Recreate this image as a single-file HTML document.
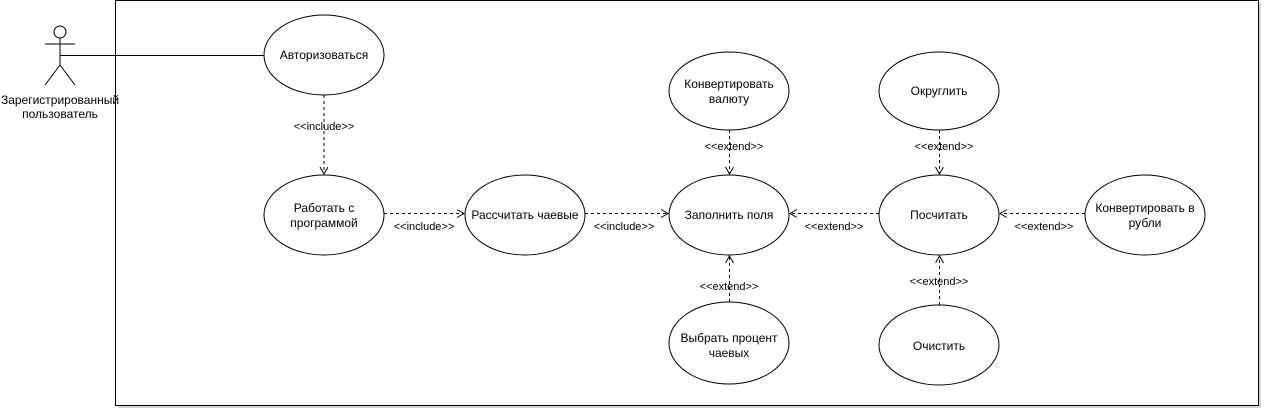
<!DOCTYPE html>
<html><head><meta charset="utf-8"><style>
html,body{margin:0;padding:0;background:#fff;width:1266px;height:417px;overflow:hidden}
text{font-family:"Liberation Sans","Noto Sans CJK SC",sans-serif;font-size:12px;fill:#000}
.l{font-size:11px}
</style></head><body>
<svg width="1266" height="417" viewBox="0 0 1266 417" xmlns="http://www.w3.org/2000/svg">
<defs>
<marker id="a" markerWidth="10" markerHeight="10" refX="8" refY="4" orient="auto" markerUnits="userSpaceOnUse">
<path d="M1,0 L8,4 L1,8" fill="none" stroke="#000" stroke-width="1"/>
</marker>
</defs>
<rect x="118" y="3" width="1143" height="405" fill="#888" opacity="0.35"/>
<rect x="115.5" y="0.5" width="1143" height="405" fill="#fff" stroke="#000"/>
<!-- actor -->
<circle cx="60" cy="32" r="6" fill="#fff" stroke="#000"/>
<line x1="60" y1="38" x2="60" y2="65" stroke="#000"/>
<line x1="45" y1="44" x2="75" y2="44" stroke="#000"/>
<line x1="60" y1="65" x2="45" y2="85" stroke="#000"/>
<line x1="60" y1="65" x2="75" y2="85" stroke="#000"/>
<text x="60" y="104" text-anchor="middle">Зарегистрированный</text>
<text x="60" y="118" text-anchor="middle">пользователь</text>
<line x1="60" y1="55.5" x2="264" y2="55.5" stroke="#000"/>
<g fill="#fff" stroke="#000">
<ellipse cx="324" cy="55" rx="60" ry="40"/>
<ellipse cx="324" cy="215" rx="60" ry="40"/>
<ellipse cx="525" cy="215" rx="60" ry="40"/>
<ellipse cx="729" cy="215" rx="60" ry="40"/>
<ellipse cx="939" cy="215" rx="60" ry="40"/>
<ellipse cx="1145" cy="215" rx="60" ry="40"/>
<ellipse cx="729" cy="91" rx="60" ry="39"/>
<ellipse cx="939" cy="91" rx="60" ry="39"/>
<ellipse cx="729" cy="343" rx="60" ry="41"/>
<ellipse cx="939" cy="345" rx="60" ry="40"/>
</g>
<g stroke="#000" stroke-dasharray="3,3" fill="none" marker-end="url(#a)">
<line x1="324" y1="95" x2="324" y2="174"/>
<line x1="384" y1="213.5" x2="464" y2="213.5"/>
<line x1="585" y1="213.5" x2="668" y2="213.5"/>
<line x1="879" y1="213.5" x2="790" y2="213.5"/>
<line x1="1085" y1="213.5" x2="1000" y2="213.5"/>
<line x1="729.5" y1="130" x2="729.5" y2="174"/>
<line x1="939.5" y1="130" x2="939.5" y2="174"/>
<line x1="729.5" y1="302" x2="729.5" y2="256"/>
<line x1="939.5" y1="305" x2="939.5" y2="256"/>
</g>
<g class="l" text-anchor="middle">
<text class="l" x="324" y="130">&lt;&lt;include&gt;&gt;</text>
<text class="l" x="424" y="230">&lt;&lt;include&gt;&gt;</text>
<text class="l" x="624" y="230">&lt;&lt;include&gt;&gt;</text>
<text class="l" x="834" y="230">&lt;&lt;extend&gt;&gt;</text>
<text class="l" x="1044" y="230">&lt;&lt;extend&gt;&gt;</text>
<text class="l" x="734" y="150">&lt;&lt;extend&gt;&gt;</text>
<text class="l" x="944" y="150">&lt;&lt;extend&gt;&gt;</text>
<text class="l" x="729" y="290">&lt;&lt;extend&gt;&gt;</text>
<text class="l" x="939" y="285">&lt;&lt;extend&gt;&gt;</text>
</g>
<g text-anchor="middle">
<text x="324" y="59">Авторизоваться</text>
<text x="324" y="212">Работать с</text>
<text x="324" y="227">программой</text>
<text x="525" y="219">Рассчитать чаевые</text>
<text x="729" y="219">Заполнить поля</text>
<text x="939" y="219">Посчитать</text>
<text x="1145" y="212">Конвертировать в</text>
<text x="1145" y="227">рубли</text>
<text x="729" y="88">Конвертировать</text>
<text x="729" y="103">валюту</text>
<text x="939" y="95">Округлить</text>
<text x="729" y="342">Выбрать процент</text>
<text x="729" y="357">чаевых</text>
<text x="939" y="350">Очистить</text>
</g>
</svg>
</body></html>
